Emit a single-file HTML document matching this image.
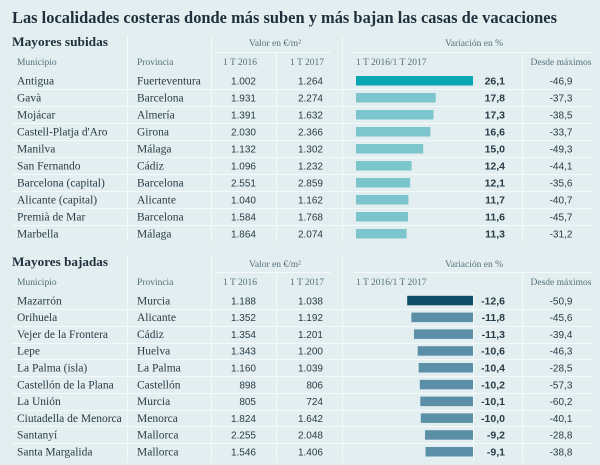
<!DOCTYPE html>
<html><head><meta charset="utf-8"><style>
html,body{margin:0;padding:0;background:#e2eef0;}
svg{display:block;}
.t{font-family:"Liberation Serif",serif;font-weight:bold;fill:#1f2f3b;}
.h{font-family:"Liberation Serif",serif;font-size:9.5px;fill:#55707b;}
.r{font-family:"Liberation Serif",serif;font-size:11.5px;fill:#2a3c47;}
.n{font-family:"Liberation Sans",sans-serif;font-size:10px;fill:#2a3c47;}
.b{font-family:"Liberation Sans",sans-serif;font-size:10.5px;font-weight:bold;fill:#2a3c47;}
.ln{stroke:#f4f9fa;stroke-width:1;}
</style></head><body>
<svg width="600" height="465" viewBox="0 0 600 465" xmlns="http://www.w3.org/2000/svg">
<rect width="600" height="465" fill="#e2eef0"/>
<text class="t" x="12" y="23" font-size="16.5" textLength="545" lengthAdjust="spacingAndGlyphs">Las localidades costeras donde más suben y más bajan las casas de vacaciones</text>

<!-- SUBIDAS -->
<text class="t" x="12" y="46" font-size="13" textLength="96" lengthAdjust="spacingAndGlyphs">Mayores subidas</text>
<g class="ln">
<line x1="127.5" y1="36" x2="127.5" y2="241"/>
<line x1="211.5" y1="36" x2="211.5" y2="241"/>
<line x1="276.5" y1="52" x2="276.5" y2="241"/>
<line x1="342.5" y1="36" x2="342.5" y2="241"/>
<line x1="522.5" y1="52" x2="522.5" y2="241"/>
<line x1="215" y1="52.5" x2="331" y2="52.5"/>
<line x1="353" y1="52.5" x2="592" y2="52.5"/>
<line x1="12" y1="89.5" x2="592" y2="89.5"/>
<line x1="12" y1="106.5" x2="592" y2="106.5"/>
<line x1="12" y1="123.5" x2="592" y2="123.5"/>
<line x1="12" y1="140.5" x2="592" y2="140.5"/>
<line x1="12" y1="157.5" x2="592" y2="157.5"/>
<line x1="12" y1="174.5" x2="592" y2="174.5"/>
<line x1="12" y1="191.5" x2="592" y2="191.5"/>
<line x1="12" y1="208.5" x2="592" y2="208.5"/>
<line x1="12" y1="225.5" x2="592" y2="225.5"/>
</g>
<text class="h" x="275" y="46" text-anchor="middle">Valor en €/m²</text>
<text class="h" x="474" y="46" text-anchor="middle">Variación en %</text>
<text class="h" x="17" y="65">Municipio</text>
<text class="h" x="137" y="65">Provincia</text>
<text class="h" x="257" y="65" text-anchor="end">1 T 2016</text>
<text class="h" x="324" y="65" text-anchor="end">1 T 2017</text>
<text class="h" x="356" y="65">1 T 2016/1 T 2017</text>
<text class="h" x="561" y="65" text-anchor="middle">Desde máximos</text>

<g>
<rect x="356" y="76" width="117" height="9.5" fill="#0aa6b4"/>
<rect x="356" y="93" width="79.7" height="9.5" fill="#7cc5cc"/>
<rect x="356" y="110" width="77.5" height="9.5" fill="#7cc5cc"/>
<rect x="356" y="127" width="74.4" height="9.5" fill="#7cc5cc"/>
<rect x="356" y="144" width="67.2" height="9.5" fill="#7cc5cc"/>
<rect x="356" y="161" width="55.6" height="9.5" fill="#7cc5cc"/>
<rect x="356" y="178" width="54.2" height="9.5" fill="#7cc5cc"/>
<rect x="356" y="195" width="52.4" height="9.5" fill="#7cc5cc"/>
<rect x="356" y="212" width="52" height="9.5" fill="#7cc5cc"/>
<rect x="356" y="229" width="50.6" height="9.5" fill="#7cc5cc"/>
</g>

<g class="r">
<text x="17" y="84.3">Antigua</text><text x="137" y="84.3">Fuerteventura</text>
<text x="17" y="101.3">Gavà</text><text x="137" y="101.3">Barcelona</text>
<text x="17" y="118.3">Mojácar</text><text x="137" y="118.3">Almería</text>
<text x="17" y="135.3">Castell-Platja d'Aro</text><text x="137" y="135.3">Girona</text>
<text x="17" y="152.3">Manilva</text><text x="137" y="152.3">Málaga</text>
<text x="17" y="169.3">San Fernando</text><text x="137" y="169.3">Cádiz</text>
<text x="17" y="186.3">Barcelona (capital)</text><text x="137" y="186.3">Barcelona</text>
<text x="17" y="203.3">Alicante (capital)</text><text x="137" y="203.3">Alicante</text>
<text x="17" y="220.3">Premià de Mar</text><text x="137" y="220.3">Barcelona</text>
<text x="17" y="237.3">Marbella</text><text x="137" y="237.3">Málaga</text>
</g>
<g class="n" text-anchor="end">
<text x="256" y="84.3">1.002</text><text x="323" y="84.3">1.264</text>
<text x="256" y="101.3">1.931</text><text x="323" y="101.3">2.274</text>
<text x="256" y="118.3">1.391</text><text x="323" y="118.3">1.632</text>
<text x="256" y="135.3">2.030</text><text x="323" y="135.3">2.366</text>
<text x="256" y="152.3">1.132</text><text x="323" y="152.3">1.302</text>
<text x="256" y="169.3">1.096</text><text x="323" y="169.3">1.232</text>
<text x="256" y="186.3">2.551</text><text x="323" y="186.3">2.859</text>
<text x="256" y="203.3">1.040</text><text x="323" y="203.3">1.162</text>
<text x="256" y="220.3">1.584</text><text x="323" y="220.3">1.768</text>
<text x="256" y="237.3">1.864</text><text x="323" y="237.3">2.074</text>
</g>
<g class="b" text-anchor="end">
<text x="505" y="84.3">26,1</text>
<text x="505" y="101.3">17,8</text>
<text x="505" y="118.3">17,3</text>
<text x="505" y="135.3">16,6</text>
<text x="505" y="152.3">15,0</text>
<text x="505" y="169.3">12,4</text>
<text x="505" y="186.3">12,1</text>
<text x="505" y="203.3">11,7</text>
<text x="505" y="220.3">11,6</text>
<text x="505" y="237.3">11,3</text>
</g>
<g class="n" text-anchor="middle">
<text x="561" y="84.3">-46,9</text>
<text x="561" y="101.3">-37,3</text>
<text x="561" y="118.3">-38,5</text>
<text x="561" y="135.3">-33,7</text>
<text x="561" y="152.3">-49,3</text>
<text x="561" y="169.3">-44,1</text>
<text x="561" y="186.3">-35,6</text>
<text x="561" y="203.3">-40,7</text>
<text x="561" y="220.3">-45,7</text>
<text x="561" y="237.3">-31,2</text>
</g>

<!-- BAJADAS -->
<text class="t" x="12" y="266" font-size="13" textLength="96" lengthAdjust="spacingAndGlyphs">Mayores bajadas</text>
<g class="ln">
<line x1="127.5" y1="256" x2="127.5" y2="462"/>
<line x1="211.5" y1="256" x2="211.5" y2="462"/>
<line x1="276.5" y1="272" x2="276.5" y2="462"/>
<line x1="342.5" y1="256" x2="342.5" y2="462"/>
<line x1="522.5" y1="272" x2="522.5" y2="462"/>
<line x1="473.5" y1="292" x2="473.5" y2="462"/>
<line x1="215" y1="272.5" x2="331" y2="272.5"/>
<line x1="353" y1="272.5" x2="592" y2="272.5"/>
<line x1="12" y1="309.5" x2="592" y2="309.5"/>
<line x1="12" y1="326.5" x2="592" y2="326.5"/>
<line x1="12" y1="343.5" x2="592" y2="343.5"/>
<line x1="12" y1="359.5" x2="592" y2="359.5"/>
<line x1="12" y1="376.5" x2="592" y2="376.5"/>
<line x1="12" y1="393.5" x2="592" y2="393.5"/>
<line x1="12" y1="410.5" x2="592" y2="410.5"/>
<line x1="12" y1="426.5" x2="592" y2="426.5"/>
<line x1="12" y1="443.5" x2="592" y2="443.5"/>
</g>
<text class="h" x="275" y="267" text-anchor="middle">Valor en €/m²</text>
<text class="h" x="474" y="267" text-anchor="middle">Variación en %</text>
<text class="h" x="17" y="285">Municipio</text>
<text class="h" x="137" y="285">Provincia</text>
<text class="h" x="257" y="285" text-anchor="end">1 T 2016</text>
<text class="h" x="324" y="285" text-anchor="end">1 T 2017</text>
<text class="h" x="356" y="285">1 T 2016/1 T 2017</text>
<text class="h" x="561" y="285" text-anchor="middle">Desde máximos</text>

<g>
<rect x="407.2" y="295.8" width="65.8" height="9.5" fill="#0f4e68"/>
<rect x="411.4" y="312.6" width="61.6" height="9.5" fill="#5b8ea7"/>
<rect x="414" y="329.4" width="59" height="9.5" fill="#5b8ea7"/>
<rect x="417.7" y="346.2" width="55.3" height="9.5" fill="#5b8ea7"/>
<rect x="418.7" y="363" width="54.3" height="9.5" fill="#5b8ea7"/>
<rect x="419.8" y="379.8" width="53.2" height="9.5" fill="#5b8ea7"/>
<rect x="420.3" y="396.6" width="52.7" height="9.5" fill="#5b8ea7"/>
<rect x="420.8" y="413.4" width="52.2" height="9.5" fill="#5b8ea7"/>
<rect x="425" y="430.2" width="48" height="9.5" fill="#5b8ea7"/>
<rect x="425.5" y="447" width="47.5" height="9.5" fill="#5b8ea7"/>
</g>

<g class="r">
<text x="17" y="304.3">Mazarrón</text><text x="137" y="304.3">Murcia</text>
<text x="17" y="321.1">Orihuela</text><text x="137" y="321.1">Alicante</text>
<text x="17" y="337.9">Vejer de la Frontera</text><text x="137" y="337.9">Cádiz</text>
<text x="17" y="354.7">Lepe</text><text x="137" y="354.7">Huelva</text>
<text x="17" y="371.5">La Palma (isla)</text><text x="137" y="371.5">La Palma</text>
<text x="17" y="388.3">Castellón de la Plana</text><text x="137" y="388.3">Castellón</text>
<text x="17" y="405.1">La Unión</text><text x="137" y="405.1">Murcia</text>
<text x="17" y="421.9">Ciutadella de Menorca</text><text x="137" y="421.9">Menorca</text>
<text x="17" y="438.7">Santanyí</text><text x="137" y="438.7">Mallorca</text>
<text x="17" y="455.5">Santa Margalida</text><text x="137" y="455.5">Mallorca</text>
</g>
<g class="n" text-anchor="end">
<text x="256" y="304.3">1.188</text><text x="323" y="304.3">1.038</text>
<text x="256" y="321.1">1.352</text><text x="323" y="321.1">1.192</text>
<text x="256" y="337.9">1.354</text><text x="323" y="337.9">1.201</text>
<text x="256" y="354.7">1.343</text><text x="323" y="354.7">1.200</text>
<text x="256" y="371.5">1.160</text><text x="323" y="371.5">1.039</text>
<text x="256" y="388.3">898</text><text x="323" y="388.3">806</text>
<text x="256" y="405.1">805</text><text x="323" y="405.1">724</text>
<text x="256" y="421.9">1.824</text><text x="323" y="421.9">1.642</text>
<text x="256" y="438.7">2.255</text><text x="323" y="438.7">2.048</text>
<text x="256" y="455.5">1.546</text><text x="323" y="455.5">1.406</text>
</g>
<g class="b" text-anchor="end">
<text x="505" y="304.3">-12,6</text>
<text x="505" y="321.1">-11,8</text>
<text x="505" y="337.9">-11,3</text>
<text x="505" y="354.7">-10,6</text>
<text x="505" y="371.5">-10,4</text>
<text x="505" y="388.3">-10,2</text>
<text x="505" y="405.1">-10,1</text>
<text x="505" y="421.9">-10,0</text>
<text x="505" y="438.7">-9,2</text>
<text x="505" y="455.5">-9,1</text>
</g>
<g class="n" text-anchor="middle">
<text x="561" y="304.3">-50,9</text>
<text x="561" y="321.1">-45,6</text>
<text x="561" y="337.9">-39,4</text>
<text x="561" y="354.7">-46,3</text>
<text x="561" y="371.5">-28,5</text>
<text x="561" y="388.3">-57,3</text>
<text x="561" y="405.1">-60,2</text>
<text x="561" y="421.9">-40,1</text>
<text x="561" y="438.7">-28,8</text>
<text x="561" y="455.5">-38,8</text>
</g>
</svg>
</body></html>
